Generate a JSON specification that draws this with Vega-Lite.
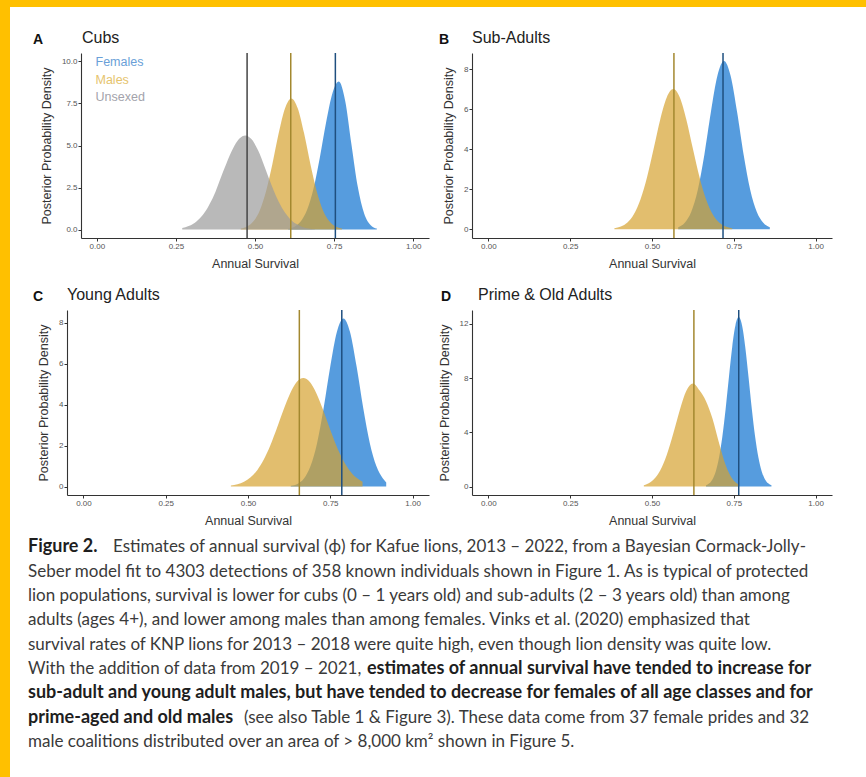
{
  "$schema": "https://vega.github.io/schema/vega-lite/v6.json",
  "background": "white",
  "padding": 0,
  "spacing": 0,
  "bounds": "flush",
  "align": "each",
  "columns": 7,
  "config": {
    "view": {"stroke": null},
    "font": "Liberation Sans",
    "axis": {"grid": false, "domainColor": "#333333", "domainWidth": 1.1, "tickColor": "#333333", "tickSize": 3, "labelFontSize": 8, "labelColor": "#555555", "labelPadding": 1, "titleFontSize": 12.5, "titleColor": "#333333", "titleFontWeight": "normal", "labelFont": "Liberation Sans", "titleFont": "Liberation Sans"},
    "axisX": {"titlePadding": 7},
    "axisY": {"titlePadding": 8},
    "title": {"anchor": "start", "fontSize": 16, "fontWeight": "normal", "color": "#222222", "offset": 6, "font": "Liberation Sans", "frame": "group"}
  },
  "datasets": {
    "dens": [
      {"panel": "A", "sex": "Females", "x": 0.605, "y": 0.05}, {"panel": "A", "sex": "Females", "x": 0.625, "y": 0.17}, {"panel": "A", "sex": "Females", "x": 0.645, "y": 0.49}, {"panel": "A", "sex": "Females", "x": 0.665, "y": 1.19}, {"panel": "A", "sex": "Females", "x": 0.685, "y": 2.44}, {"panel": "A", "sex": "Females", "x": 0.705, "y": 4.29}, {"panel": "A", "sex": "Females", "x": 0.725, "y": 6.39}, {"panel": "A", "sex": "Females", "x": 0.745, "y": 8.12}, {"panel": "A", "sex": "Females", "x": 0.765, "y": 8.8}, {"panel": "A", "sex": "Females", "x": 0.785, "y": 7.66}, {"panel": "A", "sex": "Females", "x": 0.805, "y": 5.05}, {"panel": "A", "sex": "Females", "x": 0.825, "y": 2.53}, {"panel": "A", "sex": "Females", "x": 0.845, "y": 0.96}, {"panel": "A", "sex": "Females", "x": 0.865, "y": 0.28}, {"panel": "A", "sex": "Females", "x": 0.885, "y": 0.06},
      {"panel": "A", "sex": "Males", "x": 0.455, "y": 0.06}, {"panel": "A", "sex": "Males", "x": 0.475, "y": 0.18}, {"panel": "A", "sex": "Males", "x": 0.495, "y": 0.49}, {"panel": "A", "sex": "Males", "x": 0.515, "y": 1.14}, {"panel": "A", "sex": "Males", "x": 0.535, "y": 2.28}, {"panel": "A", "sex": "Males", "x": 0.555, "y": 3.9}, {"panel": "A", "sex": "Males", "x": 0.575, "y": 5.74}, {"panel": "A", "sex": "Males", "x": 0.595, "y": 7.22}, {"panel": "A", "sex": "Males", "x": 0.615, "y": 7.8}, {"panel": "A", "sex": "Males", "x": 0.635, "y": 7.22}, {"panel": "A", "sex": "Males", "x": 0.655, "y": 5.74}, {"panel": "A", "sex": "Males", "x": 0.675, "y": 3.9}, {"panel": "A", "sex": "Males", "x": 0.695, "y": 2.28}, {"panel": "A", "sex": "Males", "x": 0.715, "y": 1.14}, {"panel": "A", "sex": "Males", "x": 0.735, "y": 0.49}, {"panel": "A", "sex": "Males", "x": 0.755, "y": 0.18}, {"panel": "A", "sex": "Males", "x": 0.775, "y": 0.06},
      {"panel": "A", "sex": "Unsexed", "x": 0.27, "y": 0.09}, {"panel": "A", "sex": "Unsexed", "x": 0.29, "y": 0.21}, {"panel": "A", "sex": "Unsexed", "x": 0.31, "y": 0.41}, {"panel": "A", "sex": "Unsexed", "x": 0.33, "y": 0.76}, {"panel": "A", "sex": "Unsexed", "x": 0.35, "y": 1.29}, {"panel": "A", "sex": "Unsexed", "x": 0.37, "y": 2.02}, {"panel": "A", "sex": "Unsexed", "x": 0.39, "y": 3.0}, {"panel": "A", "sex": "Unsexed", "x": 0.41, "y": 3.95}, {"panel": "A", "sex": "Unsexed", "x": 0.43, "y": 4.8}, {"panel": "A", "sex": "Unsexed", "x": 0.45, "y": 5.4}, {"panel": "A", "sex": "Unsexed", "x": 0.47, "y": 5.6}, {"panel": "A", "sex": "Unsexed", "x": 0.49, "y": 5.35}, {"panel": "A", "sex": "Unsexed", "x": 0.51, "y": 4.7}, {"panel": "A", "sex": "Unsexed", "x": 0.53, "y": 3.75}, {"panel": "A", "sex": "Unsexed", "x": 0.55, "y": 2.75}, {"panel": "A", "sex": "Unsexed", "x": 0.57, "y": 1.85}, {"panel": "A", "sex": "Unsexed", "x": 0.59, "y": 1.15}, {"panel": "A", "sex": "Unsexed", "x": 0.61, "y": 0.65}, {"panel": "A", "sex": "Unsexed", "x": 0.63, "y": 0.34}, {"panel": "A", "sex": "Unsexed", "x": 0.65, "y": 0.16}, {"panel": "A", "sex": "Unsexed", "x": 0.67, "y": 0.07}, {"panel": "A", "sex": "Unsexed", "x": 0.69, "y": 0.02},
      {"panel": "B", "sex": "Females", "x": 0.58, "y": 0.1}, {"panel": "B", "sex": "Females", "x": 0.6, "y": 0.32}, {"panel": "B", "sex": "Females", "x": 0.62, "y": 0.87}, {"panel": "B", "sex": "Females", "x": 0.64, "y": 1.97}, {"panel": "B", "sex": "Females", "x": 0.66, "y": 3.72}, {"panel": "B", "sex": "Females", "x": 0.68, "y": 5.85}, {"panel": "B", "sex": "Females", "x": 0.7, "y": 7.67}, {"panel": "B", "sex": "Females", "x": 0.72, "y": 8.4}, {"panel": "B", "sex": "Females", "x": 0.74, "y": 7.67}, {"panel": "B", "sex": "Females", "x": 0.76, "y": 5.85}, {"panel": "B", "sex": "Females", "x": 0.78, "y": 3.72}, {"panel": "B", "sex": "Females", "x": 0.8, "y": 1.97}, {"panel": "B", "sex": "Females", "x": 0.82, "y": 0.87}, {"panel": "B", "sex": "Females", "x": 0.84, "y": 0.32}, {"panel": "B", "sex": "Females", "x": 0.86, "y": 0.1},
      {"panel": "B", "sex": "Males", "x": 0.385, "y": 0.05}, {"panel": "B", "sex": "Males", "x": 0.405, "y": 0.14}, {"panel": "B", "sex": "Males", "x": 0.425, "y": 0.34}, {"panel": "B", "sex": "Males", "x": 0.445, "y": 0.76}, {"panel": "B", "sex": "Males", "x": 0.465, "y": 1.5}, {"panel": "B", "sex": "Males", "x": 0.485, "y": 2.61}, {"panel": "B", "sex": "Males", "x": 0.505, "y": 4.02}, {"panel": "B", "sex": "Males", "x": 0.525, "y": 5.47}, {"panel": "B", "sex": "Males", "x": 0.545, "y": 6.58}, {"panel": "B", "sex": "Males", "x": 0.565, "y": 7.0}, {"panel": "B", "sex": "Males", "x": 0.585, "y": 6.58}, {"panel": "B", "sex": "Males", "x": 0.605, "y": 5.47}, {"panel": "B", "sex": "Males", "x": 0.625, "y": 4.02}, {"panel": "B", "sex": "Males", "x": 0.645, "y": 2.61}, {"panel": "B", "sex": "Males", "x": 0.665, "y": 1.5}, {"panel": "B", "sex": "Males", "x": 0.685, "y": 0.76}, {"panel": "B", "sex": "Males", "x": 0.705, "y": 0.34}, {"panel": "B", "sex": "Males", "x": 0.725, "y": 0.14}, {"panel": "B", "sex": "Males", "x": 0.745, "y": 0.05},
      {"panel": "C", "sex": "Females", "x": 0.63, "y": 0.04}, {"panel": "C", "sex": "Females", "x": 0.65, "y": 0.13}, {"panel": "C", "sex": "Females", "x": 0.67, "y": 0.39}, {"panel": "C", "sex": "Females", "x": 0.69, "y": 1.0}, {"panel": "C", "sex": "Females", "x": 0.71, "y": 2.13}, {"panel": "C", "sex": "Females", "x": 0.73, "y": 3.84}, {"panel": "C", "sex": "Females", "x": 0.75, "y": 5.85}, {"panel": "C", "sex": "Females", "x": 0.77, "y": 7.54}, {"panel": "C", "sex": "Females", "x": 0.79, "y": 8.2}, {"panel": "C", "sex": "Females", "x": 0.81, "y": 7.54}, {"panel": "C", "sex": "Females", "x": 0.83, "y": 5.85}, {"panel": "C", "sex": "Females", "x": 0.85, "y": 3.84}, {"panel": "C", "sex": "Females", "x": 0.87, "y": 2.13}, {"panel": "C", "sex": "Females", "x": 0.89, "y": 1.0}, {"panel": "C", "sex": "Females", "x": 0.91, "y": 0.39}, {"panel": "C", "sex": "Females", "x": 0.92, "y": 0.2},
      {"panel": "C", "sex": "Males", "x": 0.448, "y": 0.05}, {"panel": "C", "sex": "Males", "x": 0.468, "y": 0.11}, {"panel": "C", "sex": "Males", "x": 0.488, "y": 0.23}, {"panel": "C", "sex": "Males", "x": 0.508, "y": 0.45}, {"panel": "C", "sex": "Males", "x": 0.528, "y": 0.8}, {"panel": "C", "sex": "Males", "x": 0.548, "y": 1.32}, {"panel": "C", "sex": "Males", "x": 0.568, "y": 2.02}, {"panel": "C", "sex": "Males", "x": 0.588, "y": 2.86}, {"panel": "C", "sex": "Males", "x": 0.608, "y": 3.75}, {"panel": "C", "sex": "Males", "x": 0.628, "y": 4.54}, {"panel": "C", "sex": "Males", "x": 0.648, "y": 5.1}, {"panel": "C", "sex": "Males", "x": 0.668, "y": 5.3}, {"panel": "C", "sex": "Males", "x": 0.688, "y": 5.1}, {"panel": "C", "sex": "Males", "x": 0.708, "y": 4.54}, {"panel": "C", "sex": "Males", "x": 0.728, "y": 3.75}, {"panel": "C", "sex": "Males", "x": 0.748, "y": 2.86}, {"panel": "C", "sex": "Males", "x": 0.768, "y": 2.02}, {"panel": "C", "sex": "Males", "x": 0.788, "y": 1.32}, {"panel": "C", "sex": "Males", "x": 0.808, "y": 0.8}, {"panel": "C", "sex": "Males", "x": 0.828, "y": 0.45}, {"panel": "C", "sex": "Males", "x": 0.848, "y": 0.23},
      {"panel": "D", "sex": "Females", "x": 0.665, "y": 0.09}, {"panel": "D", "sex": "Females", "x": 0.675, "y": 0.24}, {"panel": "D", "sex": "Females", "x": 0.685, "y": 0.55}, {"panel": "D", "sex": "Females", "x": 0.695, "y": 1.14}, {"panel": "D", "sex": "Females", "x": 0.705, "y": 2.16}, {"panel": "D", "sex": "Females", "x": 0.715, "y": 3.69}, {"panel": "D", "sex": "Females", "x": 0.725, "y": 5.72}, {"panel": "D", "sex": "Females", "x": 0.735, "y": 8.06}, {"panel": "D", "sex": "Females", "x": 0.745, "y": 10.28}, {"panel": "D", "sex": "Females", "x": 0.755, "y": 11.9}, {"panel": "D", "sex": "Females", "x": 0.765, "y": 12.5}, {"panel": "D", "sex": "Females", "x": 0.775, "y": 11.9}, {"panel": "D", "sex": "Females", "x": 0.785, "y": 10.28}, {"panel": "D", "sex": "Females", "x": 0.795, "y": 8.06}, {"panel": "D", "sex": "Females", "x": 0.805, "y": 5.72}, {"panel": "D", "sex": "Females", "x": 0.815, "y": 3.69}, {"panel": "D", "sex": "Females", "x": 0.825, "y": 2.16}, {"panel": "D", "sex": "Females", "x": 0.835, "y": 1.14}, {"panel": "D", "sex": "Females", "x": 0.845, "y": 0.55}, {"panel": "D", "sex": "Females", "x": 0.855, "y": 0.24}, {"panel": "D", "sex": "Females", "x": 0.865, "y": 0.09},
      {"panel": "D", "sex": "Males", "x": 0.475, "y": 0.1}, {"panel": "D", "sex": "Males", "x": 0.485, "y": 0.2}, {"panel": "D", "sex": "Males", "x": 0.505, "y": 0.53}, {"panel": "D", "sex": "Males", "x": 0.525, "y": 1.19}, {"panel": "D", "sex": "Males", "x": 0.545, "y": 2.33}, {"panel": "D", "sex": "Males", "x": 0.565, "y": 3.91}, {"panel": "D", "sex": "Males", "x": 0.585, "y": 5.65}, {"panel": "D", "sex": "Males", "x": 0.605, "y": 7.06}, {"panel": "D", "sex": "Males", "x": 0.625, "y": 7.6}, {"panel": "D", "sex": "Males", "x": 0.645, "y": 7.1}, {"panel": "D", "sex": "Males", "x": 0.665, "y": 6.3}, {"panel": "D", "sex": "Males", "x": 0.685, "y": 5.0}, {"panel": "D", "sex": "Males", "x": 0.705, "y": 3.2}, {"panel": "D", "sex": "Males", "x": 0.725, "y": 1.6}, {"panel": "D", "sex": "Males", "x": 0.745, "y": 0.6}, {"panel": "D", "sex": "Males", "x": 0.765, "y": 0.15}
    ],
    "means": [
      {"panel": "A", "sex": "Females", "mean": 0.754}, {"panel": "A", "sex": "Males", "mean": 0.613}, {"panel": "A", "sex": "Unsexed", "mean": 0.475},
      {"panel": "B", "sex": "Females", "mean": 0.717}, {"panel": "B", "sex": "Males", "mean": 0.567},
      {"panel": "C", "sex": "Females", "mean": 0.785}, {"panel": "C", "sex": "Males", "mean": 0.656},
      {"panel": "D", "sex": "Females", "mean": 0.765}, {"panel": "D", "sex": "Males", "mean": 0.628}
    ],
    "cap": [
      {"line": 1, "k": 0, "w": "b", "t": "Figure 2."},
      {"line": 1, "k": 1, "w": "n", "t": "Estimates of annual survival (ϕ) for Kafue lions, 2013 – 2022, from a Bayesian Cormack-Jolly-"},
      {"line": 2, "k": 0, "w": "n", "t": "Seber model fit to 4303 detections of 358 known individuals shown in Figure 1.  As is typical of protected"},
      {"line": 3, "k": 0, "w": "n", "t": "lion populations, survival is lower for cubs (0 – 1 years old) and sub-adults (2 – 3 years old) than among"},
      {"line": 4, "k": 0, "w": "n", "t": "adults (ages 4+), and lower among males than among females. Vinks et al. (2020) emphasized that"},
      {"line": 5, "k": 0, "w": "n", "t": "survival rates of KNP lions for 2013 – 2018 were quite high, even though lion density was quite low."},
      {"line": 6, "k": 0, "w": "n", "t": "With the addition of data from 2019 – 2021,"},
      {"line": 6, "k": 1, "w": "b", "t": "estimates of annual survival have tended to increase for"},
      {"line": 7, "k": 0, "w": "b", "t": "sub-adult and young adult males, but have tended to decrease for females of all age classes and for"},
      {"line": 8, "k": 0, "w": "b", "t": "prime-aged and old males"},
      {"line": 8, "k": 1, "w": "n", "t": "(see also Table 1 & Figure 3).  These data come from 37 female prides and 32"},
      {"line": 9, "k": 0, "w": "n", "t": "male coalitions distributed over an area of > 8,000 km² shown in Figure 5."}
    ]
  },
  "concat": [
    {"width": 10, "height": 7, "data": {"values": []}, "mark": "point", "view": {"fill": "#FFC000", "stroke": null}},
    {"width": 18, "height": 7, "data": {"values": []}, "mark": "point", "view": {"fill": "#FFC000", "stroke": null}},
    {"width": 39, "height": 7, "data": {"values": []}, "mark": "point", "view": {"fill": "#FFC000", "stroke": null}},
    {"width": 362, "height": 7, "data": {"values": []}, "mark": "point", "view": {"fill": "#FFC000", "stroke": null}},
    {"width": 43, "height": 7, "data": {"values": []}, "mark": "point", "view": {"fill": "#FFC000", "stroke": null}},
    {"width": 360, "height": 7, "data": {"values": []}, "mark": "point", "view": {"fill": "#FFC000", "stroke": null}},
    {"width": 34, "height": 7, "data": {"values": []}, "mark": "point", "view": {"fill": "#FFC000", "stroke": null}},

    {"width": 10, "height": 46, "data": {"values": []}, "mark": "point", "view": {"fill": "#FFC000", "stroke": null}},
    {"width": 18, "height": 46, "data": {"values": []}, "mark": "point"},
    {"width": 39, "height": 46, "data": {"values": []}, "mark": "point"},
    {"width": 362, "height": 46, "data": {"values": []}, "mark": "point"},
    {"width": 43, "height": 46, "data": {"values": []}, "mark": "point"},
    {"width": 360, "height": 46, "data": {"values": []}, "mark": "point"},
    {"width": 34, "height": 46, "data": {"values": []}, "mark": "point"},

    {"width": 10, "height": 185, "data": {"values": []}, "mark": "point", "view": {"fill": "#FFC000", "stroke": null}},
    {"width": 18, "height": 185, "data": {"values": []}, "mark": "point"},
    {"width": 39, "height": 185, "data": {"values": []}, "mark": "point", "title": {"text": "A", "fontWeight": "bold", "fontSize": 14, "dx": 5, "color": "#111111"}},
    {
      "width": 362, "height": 185,
      "title": {"text": "Cubs", "dx": 15},
      "layer": [
        {
          "data": {"name": "dens"}, "transform": [{"filter": "datum.panel == 'A'"}],
          "mark": {"type": "area", "interpolate": "monotone", "opacity": 0.7},
          "encoding": {
            "x": {"field": "x", "type": "quantitative", "scale": {"domain": [-0.05, 1.05], "nice": false, "zero": false, "range": [14, 362]}, "axis": {"title": "Annual Survival", "values": [0, 0.25, 0.5, 0.75, 1], "format": ".2f"}},
            "y": {"field": "y", "type": "quantitative", "stack": null, "scale": {"domain": [-0.5, 10.5], "nice": false, "zero": false}, "axis": {"title": "Posterior Probability Density", "values": [0, 2.5, 5, 7.5, 10], "format": ".1f", "offset": -14}},
            "y2": {"datum": 0},
            "color": {"field": "sex", "type": "nominal", "scale": {"domain": ["Females", "Males", "Unsexed"], "range": ["#0E72D0", "#D5A230", "#9B9B9B"]},
              "legend": {"orient": "none", "legendX": 83, "legendY": 56, "title": null, "symbolSize": 0, "symbolOpacity": 0, "symbolStrokeWidth": 0, "labelOffset": 0, "labelFontSize": 12.5, "rowPadding": 4.5, "padding": 0, "labelFont": "Liberation Sans",
                "encode": {"labels": {"update": {"fill": {"signal": "datum.value === 'Females' ? '#6a9fd8' : datum.value === 'Males' ? '#e6c46e' : '#a3a3ab'"}}}}}}
          }
        },
        {
          "data": {"name": "means"}, "transform": [{"filter": "datum.panel == 'A'"}],
          "mark": {"type": "rule", "strokeWidth": 1.5},
          "encoding": {
            "x": {"field": "mean", "type": "quantitative"},
            "stroke": {"field": "sex", "type": "nominal", "scale": {"domain": ["Females", "Males", "Unsexed"], "range": ["#1f4f7f", "#a3882f", "#454545"]}, "legend": null}
          }
        }
      ]
    },
    {"width": 43, "height": 185, "data": {"values": []}, "mark": "point", "title": {"text": "B", "fontWeight": "bold", "fontSize": 14, "dx": 10, "color": "#111111"}},
    {
      "width": 360, "height": 185,
      "title": {"text": "Sub-Adults", "dx": 0},
      "layer": [
        {
          "data": {"name": "dens"}, "transform": [{"filter": "datum.panel == 'B'"}],
          "mark": {"type": "area", "interpolate": "monotone", "opacity": 0.7},
          "encoding": {
            "x": {"field": "x", "type": "quantitative", "scale": {"domain": [-0.05, 1.05], "nice": false, "zero": false}, "axis": {"title": "Annual Survival", "values": [0, 0.25, 0.5, 0.75, 1], "format": ".2f"}},
            "y": {"field": "y", "type": "quantitative", "stack": null, "scale": {"domain": [-0.44, 8.8], "nice": false, "zero": false}, "axis": {"title": "Posterior Probability Density", "values": [0, 2, 4, 6, 8], "format": "d"}},
            "y2": {"datum": 0},
            "color": {"field": "sex", "type": "nominal", "scale": {"domain": ["Females", "Males", "Unsexed"], "range": ["#0E72D0", "#D5A230", "#9B9B9B"]},
              "legend": {"orient": "none", "legendX": 83, "legendY": 56, "title": null, "symbolSize": 0, "symbolOpacity": 0, "symbolStrokeWidth": 0, "labelOffset": 0, "labelFontSize": 12.5, "rowPadding": 4.5, "padding": 0, "labelFont": "Liberation Sans",
                "encode": {"labels": {"update": {"fill": {"signal": "datum.value === 'Females' ? '#6a9fd8' : datum.value === 'Males' ? '#e6c46e' : '#a3a3ab'"}}}}}}
          }
        },
        {
          "data": {"name": "means"}, "transform": [{"filter": "datum.panel == 'B'"}],
          "mark": {"type": "rule", "strokeWidth": 1.5},
          "encoding": {
            "x": {"field": "mean", "type": "quantitative"},
            "stroke": {"field": "sex", "type": "nominal", "scale": {"domain": ["Females", "Males", "Unsexed"], "range": ["#1f4f7f", "#a3882f", "#454545"]}, "legend": null}
          }
        }
      ]
    },
    {"width": 34, "height": 185, "data": {"values": []}, "mark": "point"},

    {"width": 10, "height": 72, "data": {"values": []}, "mark": "point", "view": {"fill": "#FFC000", "stroke": null}},
    {"width": 18, "height": 72, "data": {"values": []}, "mark": "point"},
    {"width": 39, "height": 72, "data": {"values": []}, "mark": "point"},
    {"width": 362, "height": 72, "data": {"values": []}, "mark": "point"},
    {"width": 43, "height": 72, "data": {"values": []}, "mark": "point"},
    {"width": 360, "height": 72, "data": {"values": []}, "mark": "point"},
    {"width": 34, "height": 72, "data": {"values": []}, "mark": "point"},

    {"width": 10, "height": 185, "data": {"values": []}, "mark": "point", "view": {"fill": "#FFC000", "stroke": null}},
    {"width": 18, "height": 185, "data": {"values": []}, "mark": "point"},
    {"width": 39, "height": 185, "data": {"values": []}, "mark": "point", "title": {"text": "C", "fontWeight": "bold", "fontSize": 14, "dx": 5, "color": "#111111"}},
    {
      "width": 362, "height": 185,
      "title": {"text": "Young Adults", "dx": 0},
      "layer": [
        {
          "data": {"name": "dens"}, "transform": [{"filter": "datum.panel == 'C'"}],
          "mark": {"type": "area", "interpolate": "monotone", "opacity": 0.7},
          "encoding": {
            "x": {"field": "x", "type": "quantitative", "scale": {"domain": [-0.05, 1.05], "nice": false, "zero": false}, "axis": {"title": "Annual Survival", "values": [0, 0.25, 0.5, 0.75, 1], "format": ".2f"}},
            "y": {"field": "y", "type": "quantitative", "stack": null, "scale": {"domain": [-0.41, 8.61], "nice": false, "zero": false}, "axis": {"title": "Posterior Probability Density", "values": [0, 2, 4, 6, 8], "format": "d"}},
            "y2": {"datum": 0},
            "color": {"field": "sex", "type": "nominal", "scale": {"domain": ["Females", "Males", "Unsexed"], "range": ["#0E72D0", "#D5A230", "#9B9B9B"]},
              "legend": {"orient": "none", "legendX": 83, "legendY": 56, "title": null, "symbolSize": 0, "symbolOpacity": 0, "symbolStrokeWidth": 0, "labelOffset": 0, "labelFontSize": 12.5, "rowPadding": 4.5, "padding": 0, "labelFont": "Liberation Sans",
                "encode": {"labels": {"update": {"fill": {"signal": "datum.value === 'Females' ? '#6a9fd8' : datum.value === 'Males' ? '#e6c46e' : '#a3a3ab'"}}}}}}
          }
        },
        {
          "data": {"name": "means"}, "transform": [{"filter": "datum.panel == 'C'"}],
          "mark": {"type": "rule", "strokeWidth": 1.5},
          "encoding": {
            "x": {"field": "mean", "type": "quantitative"},
            "stroke": {"field": "sex", "type": "nominal", "scale": {"domain": ["Females", "Males", "Unsexed"], "range": ["#1f4f7f", "#a3882f", "#454545"]}, "legend": null}
          }
        }
      ]
    },
    {"width": 43, "height": 185, "data": {"values": []}, "mark": "point", "title": {"text": "D", "fontWeight": "bold", "fontSize": 14, "dx": 12, "color": "#111111"}},
    {
      "width": 360, "height": 185,
      "title": {"text": "Prime & Old Adults", "dx": 6},
      "layer": [
        {
          "data": {"name": "dens"}, "transform": [{"filter": "datum.panel == 'D'"}],
          "mark": {"type": "area", "interpolate": "monotone", "opacity": 0.7},
          "encoding": {
            "x": {"field": "x", "type": "quantitative", "scale": {"domain": [-0.05, 1.05], "nice": false, "zero": false}, "axis": {"title": "Annual Survival", "values": [0, 0.25, 0.5, 0.75, 1], "format": ".2f"}},
            "y": {"field": "y", "type": "quantitative", "stack": null, "scale": {"domain": [-0.62, 13.02], "nice": false, "zero": false}, "axis": {"title": "Posterior Probability Density", "values": [0, 4, 8, 12], "format": "d"}},
            "y2": {"datum": 0},
            "color": {"field": "sex", "type": "nominal", "scale": {"domain": ["Females", "Males", "Unsexed"], "range": ["#0E72D0", "#D5A230", "#9B9B9B"]},
              "legend": {"orient": "none", "legendX": 83, "legendY": 56, "title": null, "symbolSize": 0, "symbolOpacity": 0, "symbolStrokeWidth": 0, "labelOffset": 0, "labelFontSize": 12.5, "rowPadding": 4.5, "padding": 0, "labelFont": "Liberation Sans",
                "encode": {"labels": {"update": {"fill": {"signal": "datum.value === 'Females' ? '#6a9fd8' : datum.value === 'Males' ? '#e6c46e' : '#a3a3ab'"}}}}}}
          }
        },
        {
          "data": {"name": "means"}, "transform": [{"filter": "datum.panel == 'D'"}],
          "mark": {"type": "rule", "strokeWidth": 1.5},
          "encoding": {
            "x": {"field": "mean", "type": "quantitative"},
            "stroke": {"field": "sex", "type": "nominal", "scale": {"domain": ["Females", "Males", "Unsexed"], "range": ["#1f4f7f", "#a3882f", "#454545"]}, "legend": null}
          }
        }
      ]
    },
    {"width": 34, "height": 185, "data": {"values": []}, "mark": "point"},

    {"width": 10, "height": 40, "data": {"values": []}, "mark": "point", "view": {"fill": "#FFC000", "stroke": null}},
    {"width": 18, "height": 40, "data": {"values": []}, "mark": "point"},
    {"width": 39, "height": 40, "data": {"values": []}, "mark": "point"},
    {"width": 362, "height": 40, "data": {"values": []}, "mark": "point"},
    {"width": 43, "height": 40, "data": {"values": []}, "mark": "point"},
    {"width": 360, "height": 40, "data": {"values": []}, "mark": "point"},
    {"width": 34, "height": 40, "data": {"values": []}, "mark": "point"},

    {"width": 10, "height": 219, "data": {"values": []}, "mark": "point", "view": {"fill": "#FFC000", "stroke": null}},
    {"width": 18, "height": 219, "data": {"values": []}, "mark": "point"},
    {
      "width": 39, "height": 219,
      "data": {"name": "cap"},
      "encoding": {
        "y": {"field": "line", "type": "ordinal", "axis": null, "scale": {"type": "point", "padding": 0.5}},
        "x": {"datum": 0, "type": "quantitative", "axis": null, "scale": {"domain": [0, 1]}},
        "text": {"field": "t"}
      },
      "layer": [
        {"transform": [{"filter": "datum.k == 0 && datum.w == 'n'"}], "mark": {"type": "text", "align": "left", "baseline": "middle", "font": "Lato", "fontSize": 17, "color": "#3a3a3a"}},
        {"transform": [{"filter": "datum.k == 0 && datum.w == 'b'"}], "mark": {"type": "text", "align": "left", "baseline": "middle", "font": "Lato", "fontSize": 18, "fontWeight": "bold", "color": "#1e1e1e"}},
        {"transform": [{"filter": "datum.k == 1 && datum.line == 1"}], "mark": {"type": "text", "align": "left", "baseline": "middle", "font": "Lato", "fontSize": 17, "color": "#3a3a3a", "dx": 85}},
        {"transform": [{"filter": "datum.k == 1 && datum.line == 6"}], "mark": {"type": "text", "align": "left", "baseline": "middle", "font": "Lato", "fontSize": 18, "fontWeight": "bold", "color": "#1e1e1e", "dx": 339}},
        {"transform": [{"filter": "datum.k == 1 && datum.line == 8"}], "mark": {"type": "text", "align": "left", "baseline": "middle", "font": "Lato", "fontSize": 17, "color": "#3a3a3a", "dx": 216}}
      ]
    },
    {"width": 362, "height": 219, "data": {"values": []}, "mark": "point"},
    {"width": 43, "height": 219, "data": {"values": []}, "mark": "point"},
    {"width": 360, "height": 219, "data": {"values": []}, "mark": "point"},
    {"width": 34, "height": 219, "data": {"values": []}, "mark": "point"},

    {"width": 10, "height": 23, "data": {"values": []}, "mark": "point", "view": {"fill": "#FFC000", "stroke": null}},
    {"width": 18, "height": 23, "data": {"values": []}, "mark": "point"},
    {"width": 39, "height": 23, "data": {"values": []}, "mark": "point"},
    {"width": 362, "height": 23, "data": {"values": []}, "mark": "point"},
    {"width": 43, "height": 23, "data": {"values": []}, "mark": "point"},
    {"width": 360, "height": 23, "data": {"values": []}, "mark": "point"},
    {"width": 34, "height": 23, "data": {"values": []}, "mark": "point"}
  ]
}
